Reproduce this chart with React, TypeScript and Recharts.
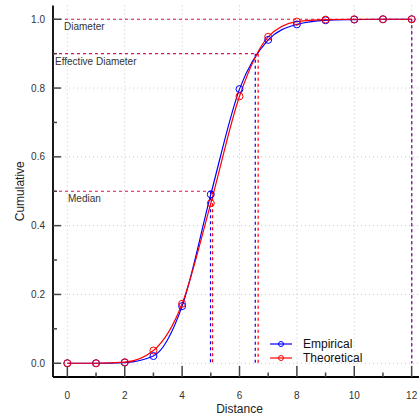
import { ComposedChart, Line, XAxis, YAxis, CartesianGrid, ReferenceLine, Legend } from 'recharts'

const distance = [0, 1, 2, 3, 4, 5, 6, 7, 8, 9, 10, 11, 12]
const empirical = [0, 0, 0.002, 0.021, 0.166, 0.491, 0.797, 0.94, 0.985, 0.997, 0.999, 1.0, 1.0]
const theoretical = [0, 0, 0.003, 0.037, 0.173, 0.465, 0.776, 0.949, 0.993, 0.999, 1.0, 1.0, 1.0]

// median, effective diameter, diameter
const statNames = ['Median', 'Effective Diameter', 'Diameter']
const statLevels = [0.5, 0.9, 1.0]
const empiricalStats = [4.99, 6.55, 12]
const theoreticalStats = [5.06, 6.65, 12]
const statLabelDx = [15, 2, 11]

const xTicks = [0, 1, 2, 3, 4, 5, 6, 7, 8, 9, 10, 11, 12]
const xGrid = [0, 2, 4, 6, 8, 10, 12]
const yTicks = [0, 0.1, 0.2, 0.3, 0.4, 0.5, 0.6, 0.7, 0.8, 0.9, 1.0]
const yGrid = [0, 0.2, 0.4, 0.6, 0.8, 1.0]

const FONT = '"Liberation Sans", Arial, sans-serif'
const BLUE = '#0000ff'
const RED = '#ff0000'
const MIX = '#dc1448'

const data = distance.map((d, i) => ({ distance: d, empirical: empirical[i], theoretical: theoretical[i] }))

const isMajorX = (v: number) => v % 2 === 0
const isMajorY = (v: number) => Math.round(v * 10) % 2 === 0

const BottomTick = ({ x, y, payload }: any) => {
  const v = payload.value
  const major = isMajorX(v)
  return (
    <g>
      <line x1={x} x2={x} y1={y} y2={y - (major ? 11 : 4.5)} stroke="#444" strokeWidth={1.5} />
      {major && (
        <text x={x} y={y + 18.5} textAnchor="middle" dominantBaseline="central" fontSize={10} fill="#333" fontFamily={FONT}>
          {v}
        </text>
      )}
    </g>
  )
}

const TopTick = ({ x, y, payload }: any) => {
  const major = isMajorX(payload.value)
  return <line x1={x} x2={x} y1={y} y2={y + (major ? 11 : 4.5)} stroke="#444" strokeWidth={1.5} />
}

const LeftTick = ({ x, y, payload }: any) => {
  const v = payload.value
  const major = isMajorY(v)
  return (
    <g>
      <line x1={x} x2={x + (major ? 8 : 4)} y1={y} y2={y} stroke="#444" strokeWidth={1.5} />
      {major && (
        <text x={x - 8} y={y} textAnchor="end" dominantBaseline="central" fontSize={10} fill="#333" fontFamily={FONT}>
          {v.toFixed(1)}
        </text>
      )}
    </g>
  )
}

const RightTick = ({ x, y, payload }: any) => {
  const major = isMajorY(payload.value)
  return <line x1={x} x2={x - (major ? 8 : 4)} y1={y} y2={y} stroke="#444" strokeWidth={1.5} />
}

const YTitle = ({ viewBox }: any) => {
  const cx = viewBox.x + 20
  const cy = viewBox.y + viewBox.height / 2
  return (
    <text x={cx} y={cy} transform={`rotate(-90, ${cx}, ${cy})`} textAnchor="middle" dominantBaseline="central" fontSize={12} fill="#222" fontFamily={FONT}>
      Cumulative
    </text>
  )
}

const XTitle = ({ viewBox }: any) => (
  <text x={viewBox.x + viewBox.width / 2} y={viewBox.y + 31.5} textAnchor="middle" dominantBaseline="central" fontSize={12} fill="#222" fontFamily={FONT}>
    Distance
  </text>
)

const statLabel = (name: string, dx: number) => ({ viewBox }: any) => (
  <text x={viewBox.x + dx} y={viewBox.y + 7.5} dominantBaseline="central" fontSize={10} fill="#333" fontFamily={FONT}>
    {name}
  </text>
)

const LegendBox = () => (
  <div style={{ fontFamily: FONT, fontSize: 12, color: '#111', lineHeight: '14.3px' }}>
    {[
      { name: 'Empirical', color: BLUE },
      { name: 'Theoretical', color: RED },
    ].map((s) => (
      <div key={s.name} style={{ display: 'flex', alignItems: 'center', height: 14.3 }}>
        <svg width={34} height={14} style={{ display: 'block' }}>
          <line x1={1} x2={23} y1={7} y2={7} stroke={s.color} strokeWidth={1.2} />
          <circle cx={12} cy={7} r={2.5} fill="none" stroke={s.color} strokeWidth={1} />
        </svg>
        <span>{s.name}</span>
      </div>
    ))}
  </div>
)

export default function App() {
  return (
    <div style={{ position: 'absolute', left: 0, top: 0, width: 419, height: 416, overflow: 'hidden', background: '#fff' }}>
      <ComposedChart width={430} height={416} data={data} margin={{ top: 5.5, right: 4, left: 0, bottom: 0 }}>
        <CartesianGrid
          stroke="#c8c8c8"
          strokeDasharray="1 3"
          verticalValues={xGrid}
          horizontalValues={yGrid}
        />
        <XAxis
          dataKey="distance"
          type="number"
          domain={[-0.5, 12.5]}
          ticks={xTicks}
          interval={0}
          height={39}
          tickSize={0}
          tickMargin={0}
          tickLine={false}
          axisLine={{ stroke: '#000', strokeWidth: 1.8 }}
          tick={<BottomTick />}
          label={<XTitle />}
        />
        <XAxis
          xAxisId="top"
          orientation="top"
          type="number"
          domain={[-0.5, 12.5]}
          ticks={xTicks}
          interval={0}
          height={0}
          tickSize={0}
          tickMargin={0}
          tickLine={false}
          axisLine={{ stroke: '#000', strokeWidth: 1.8 }}
          tick={<TopTick />}
        />
        <YAxis
          type="number"
          domain={[-0.04, 1.04]}
          ticks={yTicks}
          interval={0}
          width={53}
          tickSize={0}
          tickMargin={0}
          tickLine={false}
          axisLine={{ stroke: '#000', strokeWidth: 1.8 }}
          tick={<LeftTick />}
          label={<YTitle />}
        />
        <YAxis
          yAxisId="right"
          orientation="right"
          type="number"
          domain={[-0.04, 1.04]}
          ticks={yTicks}
          interval={0}
          width={0}
          tickSize={0}
          tickMargin={0}
          tickLine={false}
          axisLine={{ stroke: '#000', strokeWidth: 1.8 }}
          tick={<RightTick />}
        />
        {statLevels.map((lvl, i) => (
          <ReferenceLine
            key={`h${i}`}
            segment={[{ x: -0.5, y: lvl }, { x: Math.max(empiricalStats[i], theoreticalStats[i]), y: lvl }]}
            stroke={MIX}
            strokeWidth={1.2}
            strokeDasharray="3 3"
            label={statLabel(statNames[i], statLabelDx[i])}
          />
        ))}
        {statLevels.map((lvl, i) => (
          <ReferenceLine
            key={`vb${i}`}
            segment={[{ x: empiricalStats[i], y: lvl }, { x: empiricalStats[i], y: 0 }]}
            stroke={BLUE}
            strokeWidth={1.2}
            strokeDasharray="3 3"
          />
        ))}
        {statLevels.map((lvl, i) => (
          <ReferenceLine
            key={`vr${i}`}
            segment={[{ x: theoreticalStats[i], y: lvl }, { x: theoreticalStats[i], y: 0 }]}
            stroke={empiricalStats[i] === theoreticalStats[i] ? MIX : RED}
            strokeWidth={1.2}
            strokeDasharray="3 3"
          />
        ))}
        <Line
          type="monotone"
          dataKey="empirical"
          stroke={BLUE}
          strokeWidth={1.2}
          dot={{ r: 3.5, fill: 'none', stroke: BLUE, strokeWidth: 1 }}
          activeDot={false}
          isAnimationActive={false}
        />
        <Line
          type="monotone"
          dataKey="theoretical"
          stroke={RED}
          strokeWidth={1.2}
          dot={{ r: 3.5, fill: 'none', stroke: RED, strokeWidth: 1 }}
          activeDot={false}
          isAnimationActive={false}
        />
        <Legend
          layout="horizontal"
          verticalAlign="middle"
          align="center"
          content={<LegendBox />}
          wrapperStyle={{ left: 269, top: 337, width: 'auto' }}
        />
      </ComposedChart>
    </div>
  )
}
